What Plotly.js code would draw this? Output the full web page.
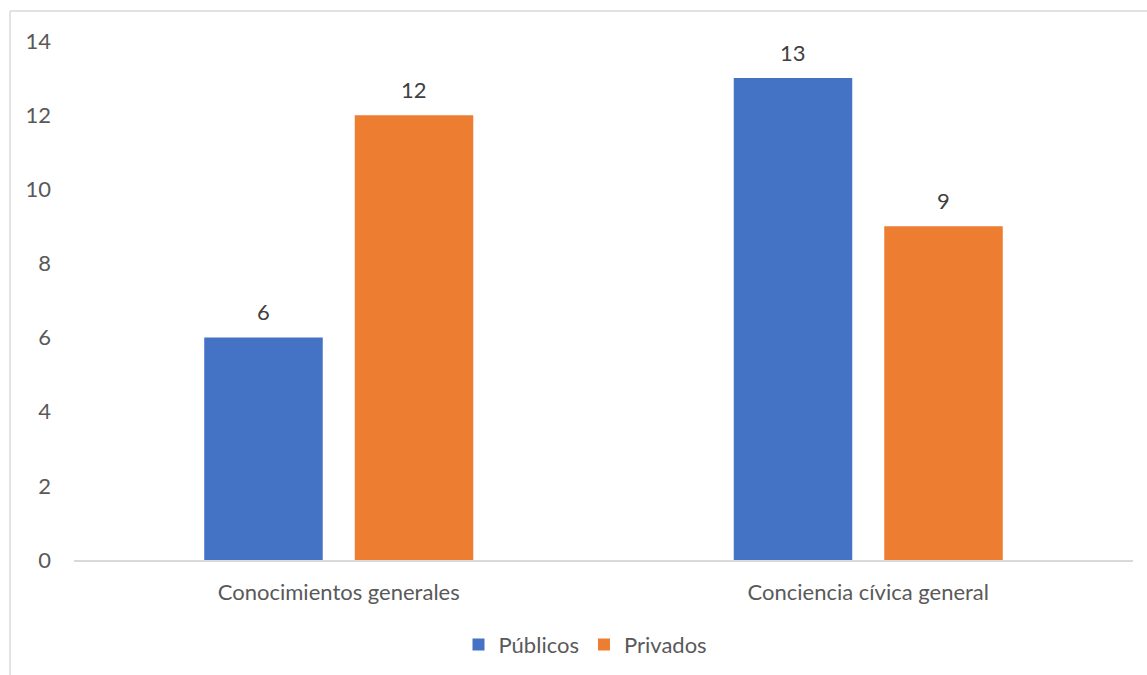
<!DOCTYPE html>
<html>
<head>
<meta charset="utf-8">
<script src="https://cdn.plot.ly/plotly-3.0.1.min.js"></script>
<style>
  html, body { margin: 0; padding: 0; background: #ffffff; }
  #chart { width: 1147px; height: 675px; }
</style>
</head>
<body>
<div id="chart"></div>
<script>
// Categories and values per school type
const categories = ["Conocimientos generales", "Conciencia cívica general"];
const publicos = [6, 13];
const privados = [12, 9];
const seriesNames = ["Públicos", "Privados"];
const yTicks = [0, 2, 4, 6, 8, 10, 12, 14];

const textColor = "#595959";
const fontFamily = "Lato, 'Open Sans', sans-serif";
const fontSize = 22;

const traces = [
  { type: "bar", name: seriesNames[0], x: categories, y: publicos,
    marker: { color: "#4472c4" }, hoverinfo: "x+y" },
  { type: "bar", name: seriesNames[1], x: categories, y: privados,
    marker: { color: "#ed7d31" }, hoverinfo: "x+y" }
];

// Value labels above each bar; shifted half a bar slot left/right of the category centre
const slotShift = 75.25;
const annotations = [];
[publicos, privados].forEach((vals, si) => {
  vals.forEach((v, ci) => {
    annotations.push({
      x: categories[ci], y: v, xref: "x", yref: "y",
      text: String(v), showarrow: false,
      xshift: si === 0 ? -slotShift : slotShift,
      yshift: 26,
      font: { family: fontFamily, size: fontSize, color: "#404040" }
    });
  });
});

const layout = {
  width: 1147, height: 675,
  margin: { l: 74, r: 14, t: 41, b: 115, autoexpand: false },
  paper_bgcolor: "#ffffff", plot_bgcolor: "#ffffff",
  font: { family: fontFamily, size: fontSize, color: textColor },
  barmode: "group",
  bargap: 0.4315,
  bargroupgap: 0.2126,
  showlegend: true,
  legend: {
    orientation: "h", x: 0.483, xanchor: "center",
    yref: "container", y: 0.045, yanchor: "middle",
    font: { family: fontFamily, size: fontSize, color: textColor },
    traceorder: "normal"
  },
  xaxis: {
    showgrid: false, zeroline: false,
    showline: true, linecolor: "#d9d9d9", linewidth: 1.5,
    ticks: "", ticklabelstandoff: 12,
    tickfont: { family: fontFamily, size: fontSize, color: textColor },
    fixedrange: true
  },
  yaxis: {
    range: [0, 14], tickvals: yTicks, ticktext: yTicks.map(String),
    showgrid: false, zeroline: false, showline: false,
    ticks: "", ticklabelstandoff: 22,
    tickfont: { family: fontFamily, size: fontSize, color: textColor },
    fixedrange: true
  },
  annotations: annotations,
  shapes: [
    // chart frame (top and left edges)
    { type: "line", xref: "paper", yref: "paper",
      x0: -0.0604, x1: 1.02, y0: 1.0578, y1: 1.0578,
      line: { color: "#d9d9d9", width: 1.5 } },
    { type: "line", xref: "paper", yref: "paper",
      x0: -0.0604, x1: -0.0604, y0: 1.0578, y1: -0.3,
      line: { color: "#d9d9d9", width: 1.5 } }
  ]
};

Plotly.newPlot("chart", traces, layout, { displayModeBar: false });
</script>
</body>
</html>
